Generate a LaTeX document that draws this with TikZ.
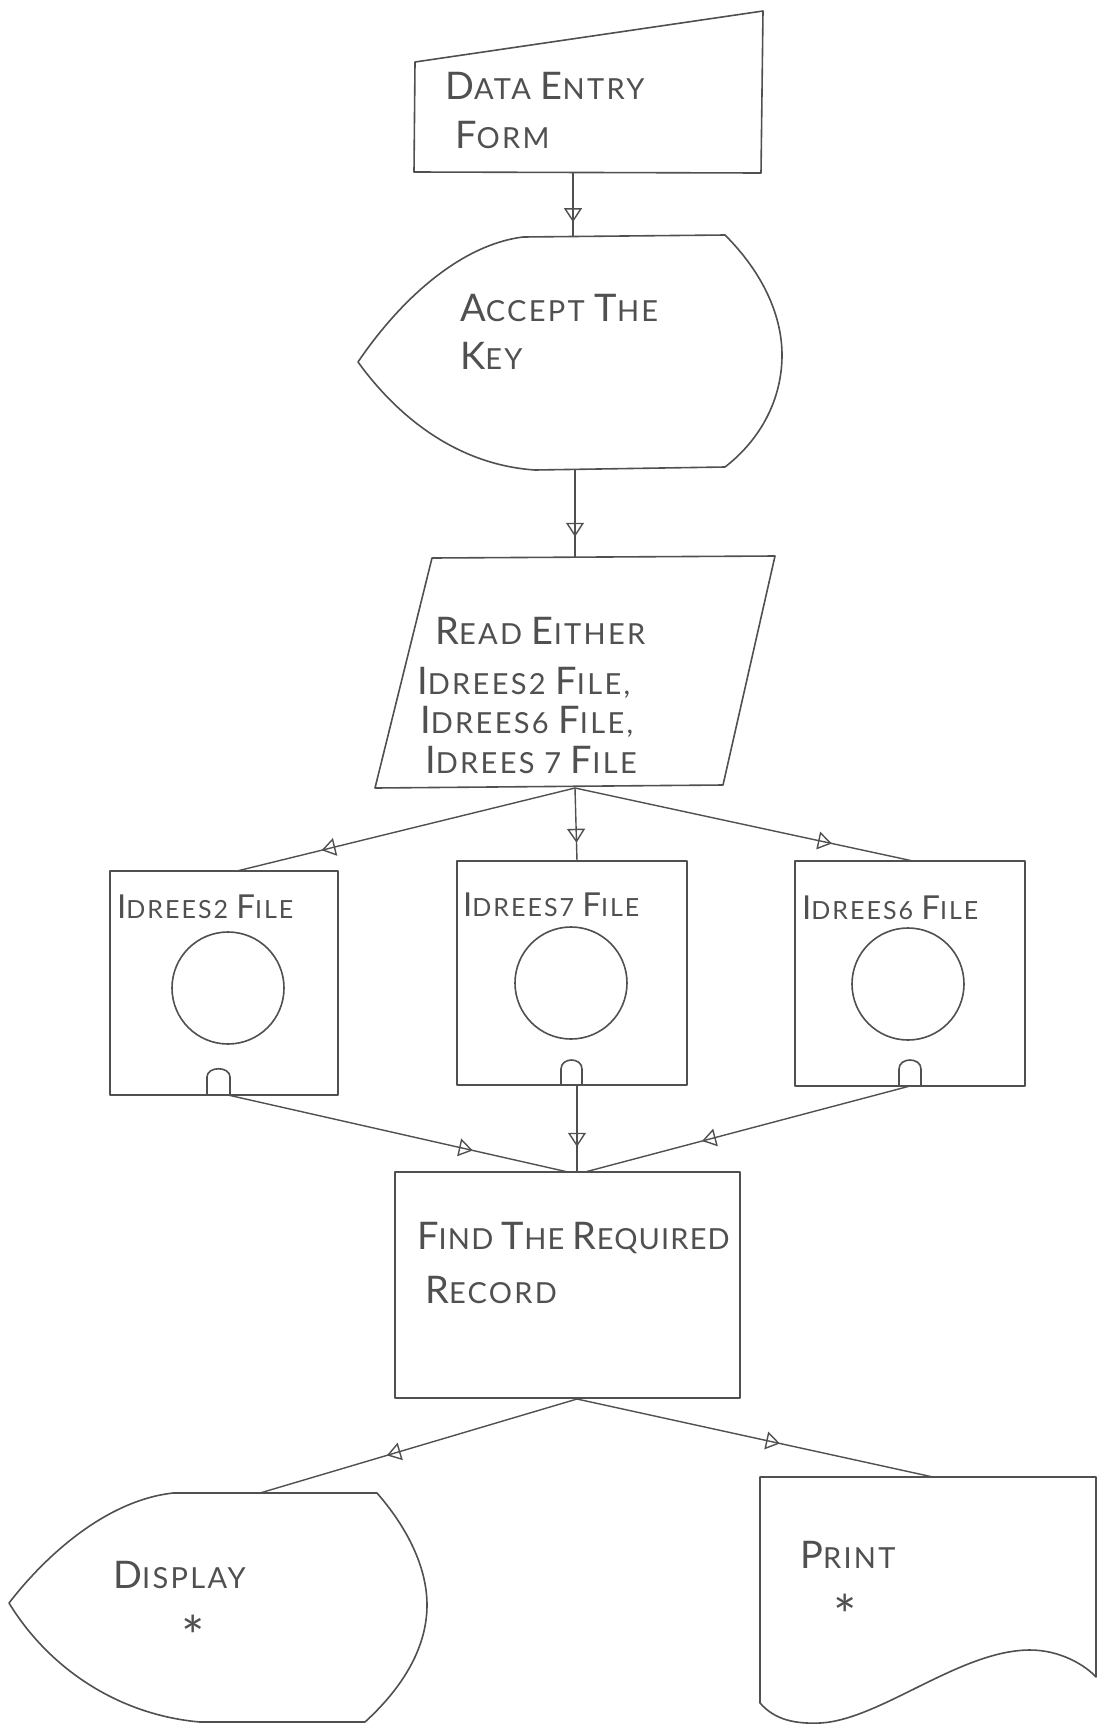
\documentclass[tikz,border=0pt]{standalone}
\usepackage{fontspec}
\setmainfont{Lato}[LetterSpace=8]
\usetikzlibrary{arrows.meta,decorations.markings}
\definecolor{ink}{RGB}{80,80,80}
\newcommand\hwc[2]{{\fontsize{38}{44}\selectfont #1}{\fontsize{29}{34}\selectfont #2}}
\newcommand\hwd[2]{{\fontsize{33}{38}\selectfont #1}{\fontsize{25}{30}\selectfont #2}}
\tikzset{
  shp/.style={draw=ink, line width=1.6pt, line join=round},
  conn/.style={draw=ink, line width=1.4pt},
  lbl/.style={anchor=west, inner sep=0pt, text=ink, font=\fontsize{29}{34}\selectfont},
  lbs/.style={anchor=west, inner sep=0pt, text=ink, font=\fontsize{25}{30}\selectfont},
  star/.style={inner sep=0pt, text=ink, font=\fontsize{55}{55}\selectfont},
  midarrow/.style={postaction={decorate}, decoration={markings,
      mark=at position #1 with {\arrow{Triangle[open,length=14pt,width=18pt,line width=1.4pt]}}}}
}
\begin{document}
\begin{tikzpicture}[x=1pt,y=-1pt]
\useasboundingbox (0,0) rectangle (1097,1729);
\fill[white] (0,0) rectangle (1097,1729);

% ---------- Data entry form (manual input) ----------
\draw[shp] (415,62) -- (763,11) -- (761,173) -- (414,172) -- cycle;
\coordinate (def) at (573,173);
\node[lbl] (t1a) at (445,86) {\hwc{D}{ATA} \hwc{E}{NTRY}};
\node[lbl] (t1b) at (455,135) {\hwc{F}{ORM}};

% ---------- Accept the key (display) ----------
\draw[shp] (523,237) -- (725,235)
  .. controls (765,275) and (782,318) .. (782,355)
  .. controls (782,400) and (760,440) .. (725,467)
  -- (535,470)
  .. controls (460,465) and (400,420) .. (358,362)
  .. controls (400,300) and (460,245) .. (523,237) -- cycle;
\coordinate (keyt) at (573,236);
\coordinate (keyb) at (575,469);
\node[lbl] (t2a) at (460,308) {\hwc{A}{CCEPT} \hwc{T}{HE}};
\node[lbl] (t2b) at (460,356) {\hwc{K}{EY}};

% ---------- Read either (parallelogram) ----------
\draw[shp] (432,558) -- (775,556) -- (723,785) -- (375,788) -- cycle;
\coordinate (readt) at (575,557);
\coordinate (readb) at (575,788);
\node[lbl] (t3a) at (435,631) {\hwc{R}{EAD} \hwc{E}{ITHER}};
\node[lbl] (t3b) at (417,683) {\hwc{I}{DREES}2 \hwc{F}{ILE},};
\node[lbl] (t3c) at (420,722) {\hwc{I}{DREES}6 \hwc{F}{ILE},};
\node[lbl] (t3d) at (425,760) {\hwc{I}{DREES} 7 \hwc{F}{ILE}};

% ---------- File boxes ----------
% left: Idrees2
\draw[shp] (110,871) rectangle (338,1095);
\draw[shp] (228,988) circle[radius=56];
\draw[shp] (207,1095) -- (207,1077) .. controls (207,1066) and (230,1066) .. (230,1077) -- (230,1095);
\coordinate (f2t) at (237,871);
\coordinate (f2b) at (228,1095);
\node[lbs] (t4) at (117,907) {\hwd{I}{DREES}2 \hwd{F}{ILE}};
% middle: Idrees7
\draw[shp] (457,861) rectangle (687,1085);
\draw[shp] (571,983) circle[radius=56];
\draw[shp] (561,1085) -- (561,1069) .. controls (561,1057) and (582,1057) .. (582,1069) -- (582,1085);
\coordinate (f7t) at (577,861);
\coordinate (f7b) at (577,1085);
\node[lbs] (t5) at (463,905) {\hwd{I}{DREES}7 \hwd{F}{ILE}};
% right: Idrees6
\draw[shp] (795,861) rectangle (1025,1086);
\draw[shp] (908,984) circle[radius=56];
\draw[shp] (899,1086) -- (899,1069) .. controls (899,1057) and (921,1057) .. (921,1069) -- (921,1086);
\coordinate (f6t) at (913,861);
\coordinate (f6b) at (910,1086);
\node[lbs] (t6) at (802,908) {\hwd{I}{DREES}6 \hwd{F}{ILE}};

% ---------- Find the required record ----------
\draw[shp] (395,1172) rectangle (740,1398);
\coordinate (findtl) at (568,1172);
\coordinate (findtm) at (577,1172);
\coordinate (findtr) at (585,1172);
\coordinate (findb) at (577,1399);
\node[lbl, font={\fontsize{29}{34}\selectfont\addfontfeatures{LetterSpace=4}}] (t7a) at (417,1238) {\hwc{F}{IND} \hwc{T}{HE} \hwc{R}{EQUIRED}};
\node[lbl] (t7b) at (425,1290) {\hwc{R}{ECORD}};

% ---------- Display ----------
\draw[shp] (173,1493) -- (377,1493)
  .. controls (405,1525) and (427,1565) .. (427,1605)
  .. controls (427,1650) and (400,1690) .. (365,1722)
  -- (200,1722)
  .. controls (120,1715) and (50,1670) .. (9,1603)
  .. controls (50,1550) and (110,1500) .. (173,1493) -- cycle;
\coordinate (dispt) at (260,1493);
\node[lbl] (t8) at (113,1575) {\hwc{D}{ISPLAY}};
\node[star] (s1) at (193,1636) {*};

% ---------- Print (document) ----------
\draw[shp] (760,1477) -- (1096,1477) -- (1096,1677)
  .. controls (1085,1665) and (1060,1650) .. (1030,1650)
  .. controls (960,1650) and (880,1720) .. (820,1723)
  .. controls (795,1724) and (775,1720) .. (760,1703) -- cycle;
\coordinate (prt) at (933,1477);
\node[lbl] (t9) at (800,1555) {\hwc{P}{RINT}};
\node[star] (s2) at (845,1615) {*};

% ---------- Connectors ----------
\draw[conn, midarrow=0.78] (def) -- (keyt);
\draw[conn, midarrow=0.77] (keyb) -- (readt);
\draw[conn, midarrow=0.75] (readb) -- (f2t);
\draw[conn, midarrow=0.75] (readb) -- (f7t);
\draw[conn, midarrow=0.76] (readb) -- (f6t);
\draw[conn, midarrow=0.72] (f2b) -- (findtl);
\draw[conn, midarrow=0.71] (f7b) -- (findtm);
\draw[conn, midarrow=0.64] (f6b) -- (findtr);
\draw[conn, midarrow=0.60] (findb) -- (dispt);
\draw[conn, midarrow=0.57] (findb) -- (prt);
\end{tikzpicture}
\end{document}
